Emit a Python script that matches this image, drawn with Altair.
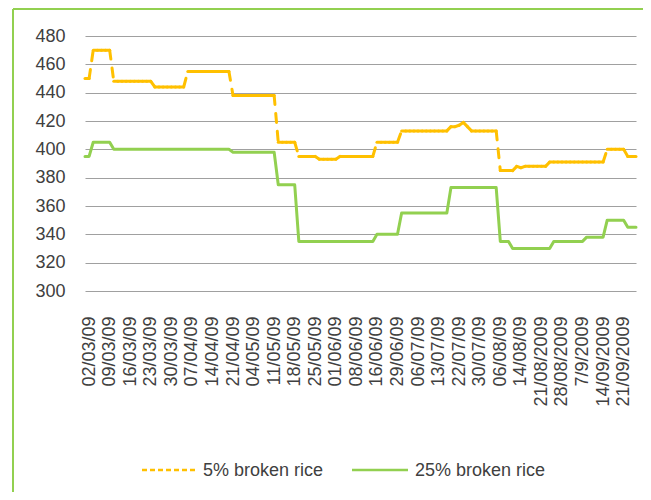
import json
import altair as alt
import pandas as pd

# x-axis tick labels (every 5th trading day, starting at index 1)
labels = ["02/03/09", "09/03/09", "16/03/09", "23/03/09", "30/03/09", "07/04/09",
          "14/04/09", "21/04/09", "04/05/09", "11/05/09", "18/05/09", "25/05/09",
          "01/06/09", "08/06/09", "16/06/09", "29/06/09", "06/07/09", "13/07/09",
          "22/07/09", "30/07/09", "06/08/09", "14/08/09", "21/08/2009", "28/08/2009",
          "7/9/2009", "14/09/2009", "21/09/2009"]
label_idx = [1 + 5 * k for k in range(len(labels))]
y_ticks = [300, 320, 340, 360, 380, 400, 420, 440, 460, 480]

# 5% broken rice (USD/t), one value per trading day
rice5 = [
    450, 450, 470, 470, 470, 470, 470, 448, 448, 448,
    448, 448, 448, 448, 448, 448, 448, 444, 444, 444,
    444, 444, 444, 444, 444, 455, 455, 455, 455, 455,
    455, 455, 455, 455, 455, 455, 438, 438, 438, 438,
    438, 438, 438, 438, 438, 438, 438, 405, 405, 405,
    405, 405, 395, 395, 395, 395, 395, 393, 393, 393,
    393, 393, 395, 395, 395, 395, 395, 395, 395, 395,
    395, 405, 405, 405, 405, 405, 405, 413, 413, 413,
    413, 413, 413, 413, 413, 413, 413, 413, 413, 416,
    416, 417, 419, 416, 413, 413, 413, 413, 413, 413,
    413, 385, 385, 385, 385, 388, 387, 388, 388, 388,
    388, 388, 388, 391, 391, 391, 391, 391, 391, 391,
    391, 391, 391, 391, 391, 391, 391, 400, 400, 400,
    400, 400, 395, 395, 395]

# 25% broken rice (USD/t)
rice25 = [
    395, 395, 405, 405, 405, 405, 405, 400, 400, 400,
    400, 400, 400, 400, 400, 400, 400, 400, 400, 400,
    400, 400, 400, 400, 400, 400, 400, 400, 400, 400,
    400, 400, 400, 400, 400, 400, 398, 398, 398, 398,
    398, 398, 398, 398, 398, 398, 398, 375, 375, 375,
    375, 375, 335, 335, 335, 335, 335, 335, 335, 335,
    335, 335, 335, 335, 335, 335, 335, 335, 335, 335,
    335, 340, 340, 340, 340, 340, 340, 355, 355, 355,
    355, 355, 355, 355, 355, 355, 355, 355, 355, 373,
    373, 373, 373, 373, 373, 373, 373, 373, 373, 373,
    373, 335, 335, 335, 330, 330, 330, 330, 330, 330,
    330, 330, 330, 330, 335, 335, 335, 335, 335, 335,
    335, 335, 338, 338, 338, 338, 338, 350, 350, 350,
    350, 350, 345, 345, 345]

series_names = ["5% broken rice", "25% broken rice"]
ORANGE = "#FFC000"
GREEN = "#92D050"
FONT = "Liberation Sans"
TXT = "#404040"

n = len(rice5)
df25 = pd.DataFrame({"i": list(range(n)), "v": rice25})
seg5 = pd.DataFrame({
    "i": list(range(n - 1)),
    "v": rice5[:-1],
    "i2": list(range(1, n)),
    "v2": rice5[1:],
})

label_expr = json.dumps(labels) + "[(datum.value - 1) / 5]"

xscale = alt.Scale(domain=[0, n - 1], nice=False, zero=False)
yscale = alt.Scale(domain=[300, 480], nice=False, zero=False)

xaxis = alt.Axis(values=label_idx, labelExpr=label_expr, labelAngle=-90,
                 grid=False, labelPadding=25, labelOverlap=False, title=None)
yaxis = alt.Axis(values=y_ticks, grid=True, labelPadding=20,
                 labelOverlap=False, title=None)

# invisible layer carrying the axes
axes = alt.Chart(df25).mark_point(opacity=0).encode(
    x=alt.X("i:Q", scale=xscale, axis=xaxis),
    y=alt.Y("v:Q", scale=yscale, axis=yaxis),
)

green_line = alt.Chart(df25).mark_line(
    color=GREEN, strokeWidth=3, strokeJoin="round", strokeCap="round"
).encode(
    x=alt.X("i:Q", scale=xscale, axis=xaxis),
    y=alt.Y("v:Q", scale=yscale, axis=yaxis),
)

orange_segs = alt.Chart(seg5).mark_rule(
    color=ORANGE, strokeWidth=3, strokeDash=[9, 9], strokeCap="round"
).encode(
    x=alt.X("i:Q", scale=xscale, axis=xaxis),
    x2="i2:Q",
    y=alt.Y("v:Q", scale=yscale, axis=yaxis),
    y2="v2:Q",
)

one = pd.DataFrame({"k": [0]})

# frame (green border of the chart object)
frame_left = alt.Chart(one).mark_rule(color=GREEN, strokeWidth=2).encode(
    x=alt.value(-72), y=alt.value(-27), y2=alt.value(470))
frame_top = alt.Chart(one).mark_rule(color=GREEN, strokeWidth=2).encode(
    x=alt.value(-72), x2=alt.value(570), y=alt.value(-27))

# legend
leg_sym5 = alt.Chart(one).mark_rule(color=ORANGE, strokeWidth=2.5, strokeDash=[5, 3]).encode(
    x=alt.value(57), x2=alt.value(113), y=alt.value(434))
leg_txt5 = alt.Chart(one).mark_text(align="left", baseline="middle", fontSize=18,
                                    font=FONT, color=TXT).encode(
    x=alt.value(118), y=alt.value(435), text=alt.value(series_names[0]))
leg_sym25 = alt.Chart(one).mark_rule(color=GREEN, strokeWidth=2.5).encode(
    x=alt.value(267), x2=alt.value(323), y=alt.value(434))
leg_txt25 = alt.Chart(one).mark_text(align="left", baseline="middle", fontSize=18,
                                     font=FONT, color=TXT).encode(
    x=alt.value(330), y=alt.value(435), text=alt.value(series_names[1]))

chart = alt.layer(
    axes, green_line, orange_segs, frame_left, frame_top,
    leg_sym5, leg_txt5, leg_sym25, leg_txt25
).properties(
    width=551, height=255,
    autosize=alt.AutoSizeParams(type="none"),
    padding={"left": 77, "top": 28, "right": 7, "bottom": 201},
    background="white",
).configure_view(
    strokeWidth=0
).configure_axis(
    labelOverlap=False, labelFont=FONT, labelFontSize=18, labelColor=TXT,
    domain=False, ticks=False, tickSize=0, gridColor="#A0A0A0", gridWidth=1.2,
    labelBound=False, labelFlush=False,
)

chart.save("out.html", embed_options={"renderer": "svg", "actions": False})
